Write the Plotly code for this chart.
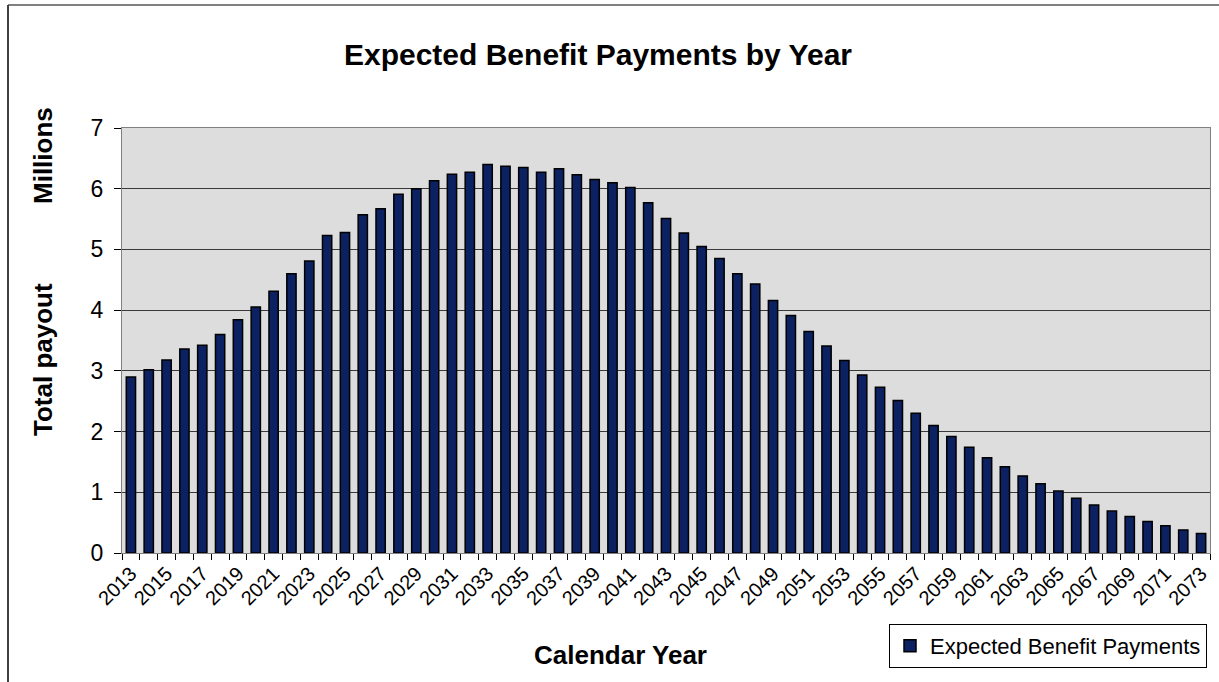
import plotly.graph_objects as go

years = list(range(2013, 2074))
payments = [2.90, 3.02, 3.18, 3.36, 3.42, 3.60, 3.84, 4.05, 4.31, 4.60,
            4.81, 5.23, 5.28, 5.57, 5.67, 5.91, 6.00, 6.13, 6.24, 6.27,
            6.40, 6.37, 6.35, 6.27, 6.33, 6.23, 6.15, 6.10, 6.02, 5.77,
            5.51, 5.27, 5.05, 4.85, 4.60, 4.43, 4.16, 3.91, 3.65, 3.41,
            3.17, 2.93, 2.73, 2.51, 2.30, 2.10, 1.92, 1.74, 1.57, 1.42,
            1.27, 1.14, 1.02, 0.90, 0.79, 0.69, 0.60, 0.52, 0.45, 0.38,
            0.32]
label_years = years[::2]

FONT = "Liberation Sans, Arial, sans-serif"
W, H = 1219, 682
L, R, T, B = 122, 9, 128, 129
PW, PH = W - L - R, H - T - B

fig = go.Figure()
fig.add_trace(go.Bar(
    x=years, y=payments, name="Expected Benefit Payments",
    marker=dict(color="#0B2161", line=dict(color="#000000", width=1.5)),
    width=0.52,
))

fig.update_layout(
    width=W, height=H,
    margin=dict(l=L, r=R, t=T, b=B),
    paper_bgcolor="white", plot_bgcolor="#DDDDDD",
    font=dict(family=FONT, color="black"),
    title=dict(text="<b>Expected Benefit Payments by Year</b>",
               xref="container", yref="container",
               x=598 / W, xanchor="center", y=1 - 54 / H, yanchor="middle",
               font=dict(size=30, family=FONT)),
    showlegend=True,
    legend=dict(x=(1207 - L) / PW, xanchor="right", y=-(624 - 553) / PH,
                yanchor="top",
                bgcolor="white", bordercolor="#000000", borderwidth=1,
                font=dict(size=22, family=FONT), itemwidth=30),
    xaxis=dict(range=[2012.5, 2073.5], tickmode="array",
               tickvals=label_years, ticktext=[str(y) for y in label_years],
               tickangle=-45, tickfont=dict(size=20, family=FONT),
               ticks="", showgrid=False, zeroline=False,
               showline=True, linecolor="#808080", linewidth=1, mirror=True,
               minor=dict(tickmode="linear", tick0=2012.5, dtick=1,
                          ticks="outside", ticklen=6, tickcolor="#000000",
                          showgrid=False)),
    yaxis=dict(range=[0, 7], dtick=1, tickfont=dict(size=23, family=FONT),
               ticks="outside", ticklen=7, tickcolor="#000000",
               ticklabelstandoff=6,
               showgrid=True, gridcolor="#3A3A3A", gridwidth=1,
               zeroline=False, showline=True, linecolor="#808080",
               linewidth=1, mirror=True),
    shapes=[
        dict(type="line", xref="paper", yref="paper",
             x0=(8 - L) / PW, x1=(W + 10 - L) / PW,
             y0=(H - B - 5) / PH, y1=(H - B - 5) / PH,
             line=dict(color="#808080", width=2)),
        dict(type="line", xref="paper", yref="paper",
             x0=(8 - L) / PW, x1=(8 - L) / PW,
             y0=-(B + 10) / PH, y1=(H - B - 5) / PH,
             line=dict(color="#404040", width=2)),
    ],
    annotations=[
        dict(text="<b>Calendar Year</b>", xref="paper", yref="paper",
             x=(620 - L) / PW, y=-(655 - 553) / PH,
             xanchor="center", yanchor="middle",
             showarrow=False, font=dict(size=26, family=FONT)),
        dict(text="<b>Total payout</b>", xref="paper", yref="paper",
             x=(43 - L) / PW, y=(553 - 360) / PH, textangle=-90,
             xanchor="center", yanchor="middle",
             showarrow=False, font=dict(size=26, family=FONT)),
        dict(text="<b>Millions</b>", xref="paper", yref="paper",
             x=(43 - L) / PW, y=(553 - 156) / PH, textangle=-90,
             xanchor="center", yanchor="middle",
             showarrow=False, font=dict(size=26, family=FONT)),
    ],
)

fig.write_html("out.html",
               config={"displayModeBar": False},
               post_script="document.body.style.margin='0px';"
                           "document.body.style.padding='0px';")
